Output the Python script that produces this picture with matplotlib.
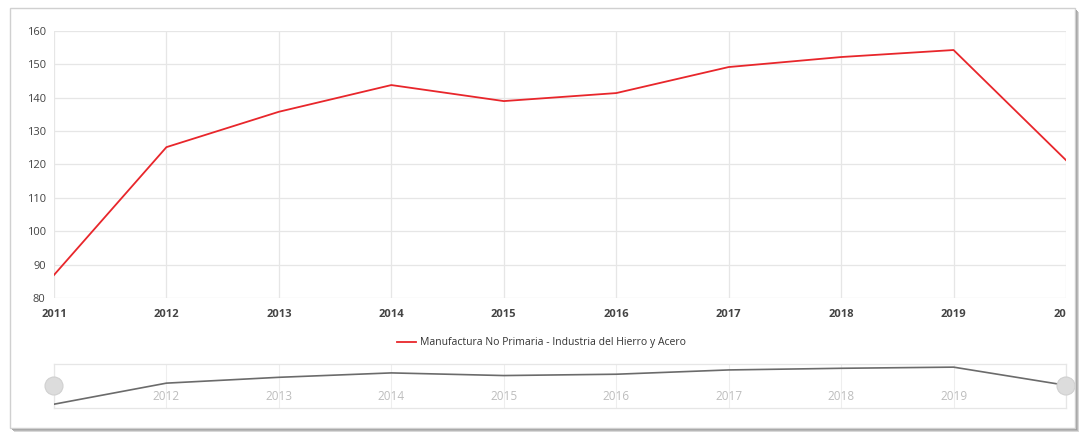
import matplotlib
matplotlib.use("Agg")
import matplotlib.pyplot as plt
from matplotlib.patches import Rectangle, Ellipse
from matplotlib.transforms import Bbox

years = [2011, 2012, 2013, 2014, 2015, 2016, 2017, 2018, 2019, 2020]
values = [86.9, 125.2, 135.8, 143.8, 139.0, 141.4, 149.2, 152.2, 154.3, 121.3]
series_name = "Manufactura No Primaria - Industria del Hierro y Acero"
y_ticks = [80, 90, 100, 110, 120, 130, 140, 150, 160]

plt.rcParams['font.family'] = ['Open Sans', 'DejaVu Sans']

W, H = 1083, 432
fig = plt.figure(figsize=(W / 100, H / 100), dpi=100)
fig.patch.set_facecolor('white')

def fx(px):
    return px / W

def fy(py):
    return 1 - py / H

# panel frame with shadow
for off, col in ((4, '#d8d8d8'), (3, '#b8b8b8'), (2, '#a0a0a0')):
    sh = Rectangle((fx(10 + off), fy(428 + off)), 1065 / W, 420 / H, transform=fig.transFigure,
                   facecolor=col, edgecolor='none', zorder=-2)
    fig.patches.append(sh)
panel = Rectangle((fx(10), fy(428)), 1065 / W, 420 / H, transform=fig.transFigure,
                  facecolor='white', edgecolor='#d0d0d0', linewidth=1.0, zorder=-1)
fig.patches.append(panel)

# main axes
ax = fig.add_axes([fx(54), fy(298), fx(1066) - fx(54), fy(31) - fy(298)])
ax.patch.set_alpha(0)
ax.plot(years, values, color='#e8262b', linewidth=1.3, zorder=3, label=series_name)
ax.set_xlim(2011, 2020)
ax.set_ylim(80, 160)
ax.set_xticks(years)
ax.set_yticks(y_ticks)
ax.grid(True, color='#e6e6e6', linewidth=0.9)
ax.set_axisbelow(True)
for s in ax.spines.values():
    s.set_visible(False)
ax.tick_params(axis='both', length=0, colors='#444444', labelsize=8)
ax.tick_params(axis='y', pad=6)
ax.tick_params(axis='x', pad=8)
ax.set_xticklabels([str(y) for y in years], fontweight='bold')
clipbox = Bbox.from_extents(0, 0, 1066, H)
for lab in ax.get_xticklabels():
    lab.set_clip_box(clipbox)
    lab.set_clip_on(True)

# legend
leg = ax.legend(loc='center', bbox_to_anchor=(0.5, fy(343)), bbox_transform=fig.transFigure,
                frameon=False, fontsize=7.5, handlelength=1.8, handletextpad=0.4)
for t in leg.get_texts():
    t.set_color('#333333')

# navigator
nav = fig.add_axes([fx(54), fy(408), fx(1066) - fx(54), fy(364) - fy(408)])
nav.patch.set_alpha(0)
nav.plot(years, values, color='#6b6b6b', linewidth=1.2, zorder=3)
nav.set_xlim(2011, 2020)
nav.set_ylim(80, 160)
nav.set_yticks([])
nav.set_xticks(years)
nav.grid(True, axis='x', color='#eeeeee', linewidth=0.8)
for s in nav.spines.values():
    s.set_color('#e6e6e6')
    s.set_linewidth(0.9)
nav.tick_params(axis='x', length=0, direction='in', pad=-13, colors='#bdbdbd', labelsize=8.5)
nav.set_xticklabels(['' if y in (2011, 2020) else str(y) for y in years])
for xpx in (54, 1066):
    e = Ellipse((fx(xpx), fy(386)), 18 / W, 18 / H, transform=fig.transFigure,
                facecolor='#dcdcdc', edgecolor='#d0d0d0', linewidth=0.8, zorder=5)
    fig.patches.append(e)

fig.savefig('out.png', dpi=100, facecolor='white')
